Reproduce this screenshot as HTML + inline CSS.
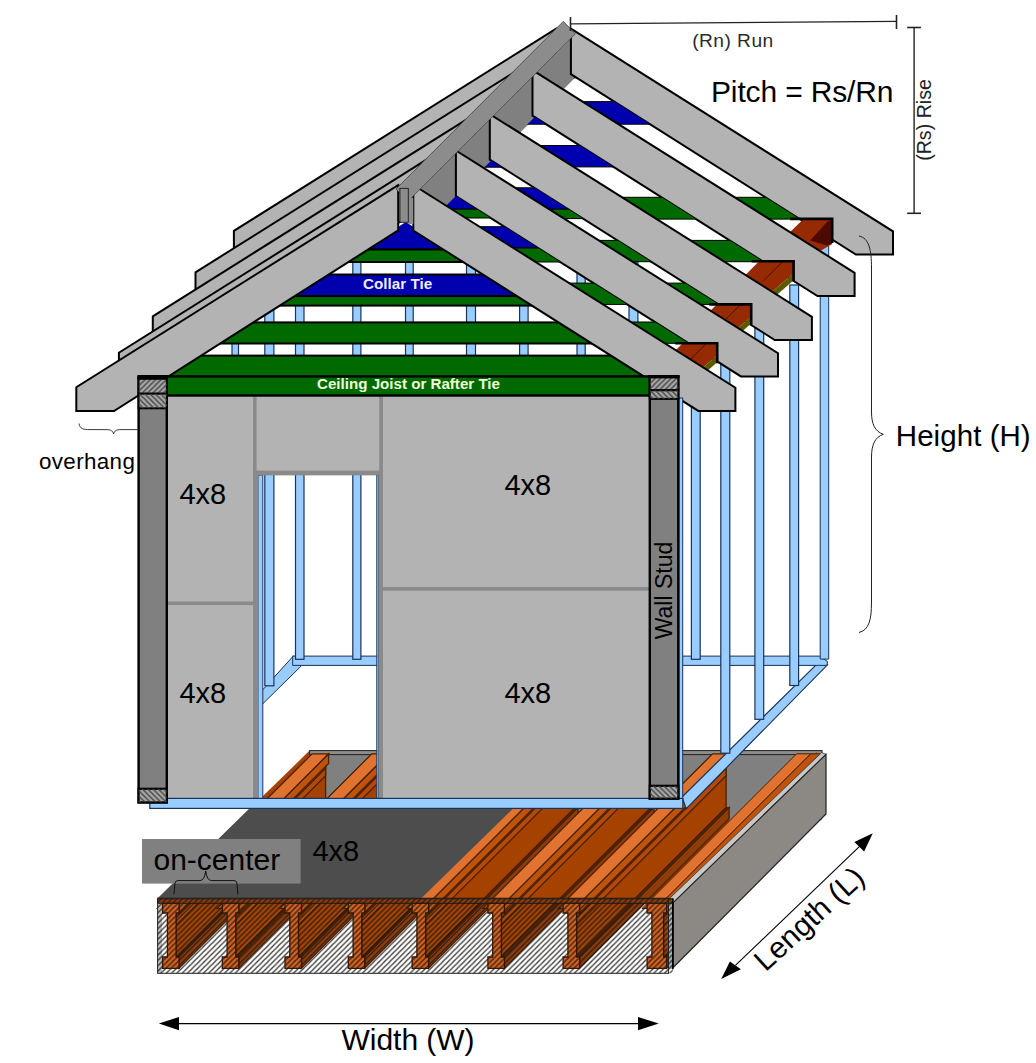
<!DOCTYPE html>
<html><head><meta charset="utf-8"><title>Framing diagram</title>
<style>
html,body{margin:0;padding:0;background:#fff;}
body{width:1036px;height:1063px;overflow:hidden;}
svg{display:block;font-family:"Liberation Sans",sans-serif;}
</style></head><body>
<svg width="1036" height="1063" viewBox="0 0 1036 1063">
<defs>
<pattern id="hatch" width="5.3" height="5.3" patternUnits="userSpaceOnUse"><path d="M-1,6.3 L6.3,-1 M-1,1 L1,-1 M4.3,6.3 L6.3,4.3" stroke="#1c1a18" stroke-width="1.35" stroke-opacity="0.85" fill="none"/></pattern>
<pattern id="hatch2" width="5.3" height="5.3" patternUnits="userSpaceOnUse"><path d="M-1,6.3 L6.3,-1 M-1,1 L1,-1 M4.3,6.3 L6.3,4.3" stroke="#444" stroke-width="1.4" fill="none"/></pattern>
<pattern id="hatch3" width="5.3" height="5.3" patternUnits="userSpaceOnUse"><path d="M-1,-1 L6.3,6.3 M-1,4.3 L1,6.3 M4.3,-1 L6.3,1" stroke="#444" stroke-width="1.4" fill="none"/></pattern>
<clipPath id="gap4"><polygon points="575.0,76.8 855.9,254.6 895.9,254.6 854.6,272.8 562.7,89.1"/></clipPath>
<clipPath id="gap3"><polygon points="534.8,117.0 817.5,296.0 857.5,296.0 811.9,316.8 519.2,132.6"/></clipPath>
<clipPath id="gap2"><polygon points="491.3,160.5 774.8,340.0 814.8,340.0 778.0,353.2 483.8,168.0"/></clipPath>
<clipPath id="gap1"><polygon points="455.9,196.0 740.9,376.4 780.9,376.4 735.4,387.7 446.1,205.7"/></clipPath>
<clipPath id="gable"><polygon points="405.8,222.0 167.5,377.0 646.0,377.0"/></clipPath>
</defs>
<rect width="1036" height="1063" fill="#fff"/>
<polygon points="157.7,898.6 672.8,898.6 822.0,750.6 309.6,750.6" fill="#a64200" stroke="none" stroke-width="0" stroke-linejoin="miter" />
<rect x="309.6" y="753.8" width="512.4" height="66.2" fill="#808080" stroke="none" stroke-width="1" />
<rect x="309.6" y="750.6" width="512.4" height="4.0" fill="#8c8c8c" stroke="#222" stroke-width="1" />
<polygon points="176.1,913.0 325.6,763.5 325.6,807.5 176.1,957.0" fill="#a64200" stroke="#4a2000" stroke-width="1.3" stroke-linejoin="miter" />
<polygon points="176.1,917.8 325.6,768.3 325.6,775.8 176.1,925.3" fill="#b34a08" stroke="#4a2000" stroke-width="1.3" stroke-linejoin="miter" />
<polygon points="176.1,957.0 325.6,807.5 328.6,807.5 179.1,957.0" fill="#552405" stroke="#4a2000" stroke-width="1.2" stroke-linejoin="miter" />
<polygon points="179.1,957.0 328.6,807.5 328.6,818.8 179.1,968.3" fill="#8f3c08" stroke="#4a2000" stroke-width="1.3" stroke-linejoin="miter" />
<polygon points="179.1,903.3 328.6,753.8 328.6,763.5 179.1,913.0" fill="#bf530c" stroke="#4a2000" stroke-width="1.3" stroke-linejoin="miter" />
<polygon points="157.5,908.4 312.1,753.8 328.6,753.8 174.0,908.4" fill="#e0732f" stroke="#4a2000" stroke-width="1.3" stroke-linejoin="miter" />
<polygon points="235.8,913.0 385.3,763.5 385.3,807.5 235.8,957.0" fill="#a64200" stroke="#4a2000" stroke-width="1.3" stroke-linejoin="miter" />
<polygon points="235.8,917.8 385.3,768.3 385.3,775.8 235.8,925.3" fill="#b34a08" stroke="#4a2000" stroke-width="1.3" stroke-linejoin="miter" />
<polygon points="235.8,957.0 385.3,807.5 388.3,807.5 238.8,957.0" fill="#552405" stroke="#4a2000" stroke-width="1.2" stroke-linejoin="miter" />
<polygon points="238.8,957.0 388.3,807.5 388.3,818.8 238.8,968.3" fill="#8f3c08" stroke="#4a2000" stroke-width="1.3" stroke-linejoin="miter" />
<polygon points="238.8,903.3 388.3,753.8 388.3,763.5 238.8,913.0" fill="#bf530c" stroke="#4a2000" stroke-width="1.3" stroke-linejoin="miter" />
<polygon points="217.2,908.4 371.8,753.8 388.3,753.8 233.7,908.4" fill="#e0732f" stroke="#4a2000" stroke-width="1.3" stroke-linejoin="miter" />
<polygon points="298.5,913.0 448.0,763.5 448.0,807.5 298.5,957.0" fill="#a64200" stroke="#4a2000" stroke-width="1.3" stroke-linejoin="miter" />
<polygon points="298.5,917.8 448.0,768.3 448.0,775.8 298.5,925.3" fill="#b34a08" stroke="#4a2000" stroke-width="1.3" stroke-linejoin="miter" />
<polygon points="298.5,957.0 448.0,807.5 451.0,807.5 301.5,957.0" fill="#552405" stroke="#4a2000" stroke-width="1.2" stroke-linejoin="miter" />
<polygon points="301.5,957.0 451.0,807.5 451.0,818.8 301.5,968.3" fill="#8f3c08" stroke="#4a2000" stroke-width="1.3" stroke-linejoin="miter" />
<polygon points="301.5,903.3 451.0,753.8 451.0,763.5 301.5,913.0" fill="#bf530c" stroke="#4a2000" stroke-width="1.3" stroke-linejoin="miter" />
<polygon points="279.9,908.4 434.5,753.8 451.0,753.8 296.4,908.4" fill="#e0732f" stroke="#4a2000" stroke-width="1.3" stroke-linejoin="miter" />
<polygon points="361.8,913.0 511.3,763.5 511.3,807.5 361.8,957.0" fill="#a64200" stroke="#4a2000" stroke-width="1.3" stroke-linejoin="miter" />
<polygon points="361.8,917.8 511.3,768.3 511.3,775.8 361.8,925.3" fill="#b34a08" stroke="#4a2000" stroke-width="1.3" stroke-linejoin="miter" />
<polygon points="361.8,957.0 511.3,807.5 514.3,807.5 364.8,957.0" fill="#552405" stroke="#4a2000" stroke-width="1.2" stroke-linejoin="miter" />
<polygon points="364.8,957.0 514.3,807.5 514.3,818.8 364.8,968.3" fill="#8f3c08" stroke="#4a2000" stroke-width="1.3" stroke-linejoin="miter" />
<polygon points="364.8,903.3 514.3,753.8 514.3,763.5 364.8,913.0" fill="#bf530c" stroke="#4a2000" stroke-width="1.3" stroke-linejoin="miter" />
<polygon points="343.2,908.4 497.8,753.8 514.3,753.8 359.7,908.4" fill="#e0732f" stroke="#4a2000" stroke-width="1.3" stroke-linejoin="miter" />
<polygon points="425.6,913.0 575.1,763.5 575.1,807.5 425.6,957.0" fill="#a64200" stroke="#4a2000" stroke-width="1.3" stroke-linejoin="miter" />
<polygon points="425.6,917.8 575.1,768.3 575.1,775.8 425.6,925.3" fill="#b34a08" stroke="#4a2000" stroke-width="1.3" stroke-linejoin="miter" />
<polygon points="425.6,957.0 575.1,807.5 578.1,807.5 428.6,957.0" fill="#552405" stroke="#4a2000" stroke-width="1.2" stroke-linejoin="miter" />
<polygon points="428.6,957.0 578.1,807.5 578.1,818.8 428.6,968.3" fill="#8f3c08" stroke="#4a2000" stroke-width="1.3" stroke-linejoin="miter" />
<polygon points="428.6,903.3 578.1,753.8 578.1,763.5 428.6,913.0" fill="#bf530c" stroke="#4a2000" stroke-width="1.3" stroke-linejoin="miter" />
<polygon points="407.0,908.4 561.6,753.8 578.1,753.8 423.5,908.4" fill="#e0732f" stroke="#4a2000" stroke-width="1.3" stroke-linejoin="miter" />
<polygon points="501.4,913.0 650.9,763.5 650.9,807.5 501.4,957.0" fill="#a64200" stroke="#4a2000" stroke-width="1.3" stroke-linejoin="miter" />
<polygon points="501.4,917.8 650.9,768.3 650.9,775.8 501.4,925.3" fill="#b34a08" stroke="#4a2000" stroke-width="1.3" stroke-linejoin="miter" />
<polygon points="501.4,957.0 650.9,807.5 653.9,807.5 504.4,957.0" fill="#552405" stroke="#4a2000" stroke-width="1.2" stroke-linejoin="miter" />
<polygon points="504.4,957.0 653.9,807.5 653.9,818.8 504.4,968.3" fill="#8f3c08" stroke="#4a2000" stroke-width="1.3" stroke-linejoin="miter" />
<polygon points="504.4,903.3 653.9,753.8 653.9,763.5 504.4,913.0" fill="#bf530c" stroke="#4a2000" stroke-width="1.3" stroke-linejoin="miter" />
<polygon points="482.8,908.4 637.4,753.8 653.9,753.8 499.3,908.4" fill="#e0732f" stroke="#4a2000" stroke-width="1.3" stroke-linejoin="miter" />
<polygon points="576.6,913.0 726.1,763.5 726.1,807.5 576.6,957.0" fill="#a64200" stroke="#4a2000" stroke-width="1.3" stroke-linejoin="miter" />
<polygon points="576.6,917.8 726.1,768.3 726.1,775.8 576.6,925.3" fill="#b34a08" stroke="#4a2000" stroke-width="1.3" stroke-linejoin="miter" />
<polygon points="576.6,957.0 726.1,807.5 729.1,807.5 579.6,957.0" fill="#552405" stroke="#4a2000" stroke-width="1.2" stroke-linejoin="miter" />
<polygon points="579.6,957.0 729.1,807.5 729.1,818.8 579.6,968.3" fill="#8f3c08" stroke="#4a2000" stroke-width="1.3" stroke-linejoin="miter" />
<polygon points="579.6,903.3 729.1,753.8 729.1,763.5 579.6,913.0" fill="#bf530c" stroke="#4a2000" stroke-width="1.3" stroke-linejoin="miter" />
<polygon points="558.0,908.4 712.6,753.8 729.1,753.8 574.5,908.4" fill="#e0732f" stroke="#4a2000" stroke-width="1.3" stroke-linejoin="miter" />
<polygon points="663.6,913.0 813.1,763.5 813.1,807.5 663.6,957.0" fill="#a64200" stroke="#4a2000" stroke-width="1.3" stroke-linejoin="miter" />
<polygon points="663.6,917.8 813.1,768.3 813.1,775.8 663.6,925.3" fill="#b34a08" stroke="#4a2000" stroke-width="1.3" stroke-linejoin="miter" />
<polygon points="663.6,957.0 813.1,807.5 816.1,807.5 666.6,957.0" fill="#552405" stroke="#4a2000" stroke-width="1.2" stroke-linejoin="miter" />
<polygon points="666.6,957.0 816.1,807.5 816.1,818.8 666.6,968.3" fill="#8f3c08" stroke="#4a2000" stroke-width="1.3" stroke-linejoin="miter" />
<polygon points="666.6,903.3 816.1,753.8 816.1,763.5 666.6,913.0" fill="#bf530c" stroke="#4a2000" stroke-width="1.3" stroke-linejoin="miter" />
<polygon points="656.0,908.4 810.6,753.8 820.1,753.8 665.5,908.4" fill="#bf530c" stroke="#4a2000" stroke-width="1" stroke-linejoin="miter" />
<polygon points="642.0,908.4 796.6,753.8 810.6,753.8 656.0,908.4" fill="#e0732f" stroke="#4a2000" stroke-width="1" stroke-linejoin="miter" />
<polygon points="669.5,898.5 673.5,902.6 826.0,754.3 821.6,752.6" fill="#c8c8c8" stroke="#333" stroke-width="0.8" stroke-linejoin="miter" />
<polygon points="673.2,902.6 826.0,754.3 826.0,814.0 673.2,967.5" fill="#8c8884" stroke="#222" stroke-width="1.2" stroke-linejoin="miter" />
<polygon points="157.7,898.2 252.0,806.0 515.7,806.0 421.3,898.2" fill="#4d4d4d" stroke="none" stroke-width="0" stroke-linejoin="miter" />
<rect x="157.6" y="903.3" width="4.4" height="70.0" fill="#c0c0c0" stroke="none" stroke-width="1" />
<rect x="668.5" y="903.3" width="4.3" height="65.7" fill="#b0b0b0" stroke="none" stroke-width="1" />
<rect x="157.6" y="898.8" width="515.2" height="4.5" fill="#8a3c10" stroke="#2a1200" stroke-width="1" />
<path d="M162.6,903.3 H179.1 V913 H176.1 V957 H179.1 V968.3 H162.6 V957 H167.4 V913 H162.6 Z" fill="#d4601c" stroke="#3a1500" stroke-width="1.3" />
<path d="M222.3,903.3 H238.8 V913 H235.8 V957 H238.8 V968.3 H222.3 V957 H227.1 V913 H222.3 Z" fill="#d4601c" stroke="#3a1500" stroke-width="1.3" />
<path d="M285.0,903.3 H301.5 V913 H298.5 V957 H301.5 V968.3 H285.0 V957 H289.8 V913 H285.0 Z" fill="#d4601c" stroke="#3a1500" stroke-width="1.3" />
<path d="M348.3,903.3 H364.8 V913 H361.8 V957 H364.8 V968.3 H348.3 V957 H353.1 V913 H348.3 Z" fill="#d4601c" stroke="#3a1500" stroke-width="1.3" />
<path d="M412.1,903.3 H428.6 V913 H425.6 V957 H428.6 V968.3 H412.1 V957 H416.9 V913 H412.1 Z" fill="#d4601c" stroke="#3a1500" stroke-width="1.3" />
<path d="M487.9,903.3 H504.4 V913 H501.4 V957 H504.4 V968.3 H487.9 V957 H492.7 V913 H487.9 Z" fill="#d4601c" stroke="#3a1500" stroke-width="1.3" />
<path d="M563.1,903.3 H579.6 V913 H576.6 V957 H579.6 V968.3 H563.1 V957 H567.9 V913 H563.1 Z" fill="#d4601c" stroke="#3a1500" stroke-width="1.3" />
<path d="M647.1,903.3 H666.6 V913 H663.6 V957 H666.6 V968.3 H647.1 V957 H651.9 V913 H647.1 Z" fill="#d4601c" stroke="#3a1500" stroke-width="1.3" />
<rect x="157.6" y="898.2" width="515.2" height="75.1" fill="url(#hatch)" stroke="none" stroke-width="1" />
<rect x="157.6" y="898.2" width="510.9" height="75.1" fill="none" stroke="#222" stroke-width="1" />
<line x1="672.8" y1="898.6" x2="672.8" y2="969.2" stroke="#000" stroke-width="1.6" />
<polygon points="293.6,655.7 301.1,666.1 258.5,708.0 258.5,694.5" fill="#99ccff" stroke="#1a3358" stroke-width="1" stroke-linejoin="miter" />
<polygon points="819.4,661.6 827.5,664.8 686.3,808.6 682.0,797.0" fill="#99ccff" stroke="#1a3358" stroke-width="1.2" stroke-linejoin="miter" />
<polygon points="292.7,656.1 819.4,656.1 827.5,661.5 827.0,665.4 292.7,665.4" fill="#99ccff" stroke="#1a3358" stroke-width="1" stroke-linejoin="miter" />
<rect x="295.5" y="262.0" width="8.5" height="397.3" fill="#99ccff" stroke="#1a3358" stroke-width="1.2" />
<rect x="352.8" y="262.0" width="8.1" height="397.3" fill="#99ccff" stroke="#1a3358" stroke-width="1.2" />
<rect x="405.5" y="262.0" width="7.7" height="397.3" fill="#99ccff" stroke="#1a3358" stroke-width="1.2" />
<rect x="466.5" y="262.0" width="9.0" height="397.3" fill="#99ccff" stroke="#1a3358" stroke-width="1.2" />
<rect x="519.6" y="262.0" width="8.5" height="397.3" fill="#99ccff" stroke="#1a3358" stroke-width="1.2" />
<rect x="577.0" y="262.0" width="8.2" height="397.3" fill="#99ccff" stroke="#1a3358" stroke-width="1.2" />
<rect x="629.0" y="262.0" width="8.9" height="397.3" fill="#99ccff" stroke="#1a3358" stroke-width="1.2" />
<rect x="691.4" y="262.0" width="8.8" height="397.3" fill="#99ccff" stroke="#1a3358" stroke-width="1.2" />
<rect x="264.8" y="262.0" width="9.1" height="423.8" fill="#99ccff" stroke="#1a3358" stroke-width="1.2" />
<rect x="232.0" y="300.0" width="6.5" height="120.0" fill="#99ccff" stroke="#1a3358" stroke-width="1.2" />
<rect x="720.8" y="350.0" width="9.0" height="403.2" fill="#99ccff" stroke="#1a3358" stroke-width="1.2" />
<rect x="754.9" y="318.0" width="8.8" height="401.3" fill="#99ccff" stroke="#1a3358" stroke-width="1.2" />
<rect x="789.8" y="285.0" width="8.8" height="400.5" fill="#99ccff" stroke="#1a3358" stroke-width="1.2" />
<polygon points="820.2,240.0 828.7,240.0 828.7,659.1 820.2,659.1" fill="#99ccff" stroke="#1a3358" stroke-width="1" stroke-linejoin="miter" />
<polygon points="555.8,28.9 233.9,230.9 233.9,254.7 271.6,254.7 555.8,74.1" fill="#b3b3b3" stroke="#000" stroke-width="2" stroke-linejoin="miter" />
<polygon points="517.4,70.3 195.5,272.3 195.5,296.1 233.2,296.1 517.4,115.5" fill="#b3b3b3" stroke="#000" stroke-width="2" stroke-linejoin="miter" />
<polygon points="474.7,114.3 152.8,316.3 152.8,340.1 190.5,340.1 474.7,159.5" fill="#b3b3b3" stroke="#000" stroke-width="2" stroke-linejoin="miter" />
<polygon points="440.8,150.7 118.9,352.7 118.9,376.5 156.6,376.5 440.8,195.9" fill="#b3b3b3" stroke="#000" stroke-width="2" stroke-linejoin="miter" />
<polygon points="575.3,33.9 575.3,77.5 413.3,239.5 413.3,196.0" fill="#808080" stroke="none" stroke-width="0" stroke-linejoin="miter" />
<polygon points="570.9,28.7 893.0,231.4 893.0,254.6 855.9,254.6 570.9,74.2" fill="#b3b3b3" stroke="#000" stroke-width="2" stroke-linejoin="miter" />
<g clip-path="url(#gap4)">
<rect x="300.0" y="70.0" width="600.0" height="7.8" fill="#0000ae" stroke="#000" stroke-width="1" />
<rect x="300.0" y="101.6" width="600.0" height="22.6" fill="#0000ae" stroke="#000" stroke-width="1" />
<rect x="300.0" y="197.3" width="600.0" height="21.8" fill="#006a00" stroke="#000" stroke-width="1" />
</g>
<polygon points="803.4,218.9 832.2,218.9 832.2,243.9 820.2,250.9 802.2,252.9 784.2,238.1" fill="#962a02" stroke="none" stroke-width="0" stroke-linejoin="miter" />
<polygon points="827.4,221.4 832.2,219.9 831.7,243.4 827.2,245.4 810.2,240.4" fill="#4d0a00" stroke="none" stroke-width="0" stroke-linejoin="miter" />
<path d="M790.2,218.9 L832.2,218.9 L832.2,242.9" fill="none" stroke="#000" stroke-width="2.6" stroke-linejoin="miter"/>
<polygon points="532.5,70.1 854.6,272.8 854.6,296.0 817.5,296.0 532.5,115.6" fill="#b3b3b3" stroke="#000" stroke-width="2" stroke-linejoin="miter" />
<g clip-path="url(#gap3)">
<rect x="300.0" y="116.0" width="600.0" height="8.2" fill="#0000ae" stroke="#000" stroke-width="1" />
<rect x="300.0" y="145.5" width="600.0" height="21.4" fill="#0000ae" stroke="#000" stroke-width="1" />
<rect x="300.0" y="197.3" width="600.0" height="21.8" fill="#006a00" stroke="#000" stroke-width="1" />
<rect x="300.0" y="240.4" width="600.0" height="21.3" fill="#006a00" stroke="#000" stroke-width="1" />
</g>
<polygon points="759.1,261.2 793.6,261.2 793.6,273.2 767.6,295.8 741.6,278.7" fill="#962a02" stroke="none" stroke-width="0" stroke-linejoin="miter" />
<polygon points="793.6,273.2 793.6,280.2 777.6,294.2 767.6,295.8" fill="#5a5a00" stroke="none" stroke-width="0" stroke-linejoin="miter" />
<line x1="781.6" y1="262.7" x2="763.6" y2="280.7" stroke="#4a1000" stroke-width="1" />
<path d="M751.6,261.2 L793.6,261.2 L793.6,281.2" fill="none" stroke="#000" stroke-width="2.6" stroke-linejoin="miter"/>
<polygon points="489.8,114.1 811.9,316.8 811.9,340.0 774.8,340.0 489.8,159.6" fill="#b3b3b3" stroke="#000" stroke-width="2" stroke-linejoin="miter" />
<g clip-path="url(#gap2)">
<rect x="300.0" y="158.0" width="600.0" height="9.2" fill="#0000ae" stroke="#000" stroke-width="1" />
<rect x="300.0" y="187.8" width="600.0" height="21.4" fill="#0000ae" stroke="#000" stroke-width="1" />
<rect x="300.0" y="209.2" width="600.0" height="9.4" fill="#006a00" stroke="#000" stroke-width="1" />
<rect x="300.0" y="240.4" width="600.0" height="21.3" fill="#006a00" stroke="#000" stroke-width="1" />
<rect x="300.0" y="283.1" width="600.0" height="21.3" fill="#006a00" stroke="#000" stroke-width="1" />
</g>
<polygon points="716.7,304.4 751.2,304.4 751.2,316.4 725.2,339.0 699.2,321.9" fill="#962a02" stroke="none" stroke-width="0" stroke-linejoin="miter" />
<polygon points="751.2,316.4 751.2,323.4 735.2,337.4 725.2,339.0" fill="#5a5a00" stroke="none" stroke-width="0" stroke-linejoin="miter" />
<line x1="739.2" y1="305.9" x2="721.2" y2="323.9" stroke="#4a1000" stroke-width="1" />
<path d="M709.2,304.4 L751.2,304.4 L751.2,324.4" fill="none" stroke="#000" stroke-width="2.6" stroke-linejoin="miter"/>
<polygon points="455.9,150.5 778.0,353.2 778.0,376.4 740.9,376.4 455.9,196.0" fill="#b3b3b3" stroke="#000" stroke-width="2" stroke-linejoin="miter" />
<g clip-path="url(#gap1)">
<rect x="300.0" y="196.0" width="600.0" height="13.2" fill="#0000ae" stroke="#000" stroke-width="1" />
<rect x="300.0" y="209.2" width="600.0" height="8.8" fill="#006a00" stroke="#000" stroke-width="1" />
<rect x="300.0" y="226.7" width="600.0" height="21.3" fill="#0000ae" stroke="#000" stroke-width="1" />
<rect x="300.0" y="248.0" width="600.0" height="14.0" fill="#006a00" stroke="#000" stroke-width="1" />
<rect x="300.0" y="283.1" width="600.0" height="21.3" fill="#006a00" stroke="#000" stroke-width="1" />
<rect x="300.0" y="322.0" width="600.0" height="21.3" fill="#006a00" stroke="#000" stroke-width="1" />
</g>
<polygon points="682.7,343.2 717.2,343.2 717.2,355.2 691.2,377.8 665.2,360.7" fill="#962a02" stroke="none" stroke-width="0" stroke-linejoin="miter" />
<polygon points="717.2,355.2 717.2,362.2 701.2,376.2 691.2,377.8" fill="#5a5a00" stroke="none" stroke-width="0" stroke-linejoin="miter" />
<line x1="705.2" y1="344.7" x2="687.2" y2="362.7" stroke="#4a1000" stroke-width="1" />
<path d="M675.2,343.2 L717.2,343.2 L717.2,363.2" fill="none" stroke="#000" stroke-width="2.6" stroke-linejoin="miter"/>
<g clip-path="url(#gable)">
<rect x="150.0" y="220.0" width="530.0" height="29.5" fill="#0000ae" stroke="#000" stroke-width="2" />
<rect x="150.0" y="249.5" width="530.0" height="12.5" fill="#006a00" stroke="#000" stroke-width="2" />
<rect x="150.0" y="274.5" width="530.0" height="21.6" fill="#0000ae" stroke="#000" stroke-width="2" />
<rect x="150.0" y="296.1" width="530.0" height="9.5" fill="#006a00" stroke="#000" stroke-width="2" />
<rect x="150.0" y="322.4" width="530.0" height="21.1" fill="#006a00" stroke="#000" stroke-width="2" />
<rect x="150.0" y="355.6" width="530.0" height="21.4" fill="#006a00" stroke="#000" stroke-width="2" />
</g>
<text x="363.1" y="288.8" font-size="15" fill="#eeeeff" text-anchor="start" font-weight="bold" textLength="69" lengthAdjust="spacingAndGlyphs">Collar Tie</text>
<polygon points="413.3,185.0 735.4,387.7 735.4,410.9 698.3,410.9 413.3,230.5" fill="#b3b3b3" stroke="#000" stroke-width="2" stroke-linejoin="miter" />
<polygon points="398.2,185.2 76.3,387.2 76.3,411.0 114.0,411.0 398.2,230.4" fill="#b3b3b3" stroke="#000" stroke-width="2" stroke-linejoin="miter" />
<polygon points="563.4,21.3 575.3,33.9 408.3,200.9 396.0,189.0" fill="#8c8c8c" stroke="#444" stroke-width="0.8" stroke-linejoin="miter" />
<rect x="408.3" y="198.0" width="5.0" height="26.0" fill="#8c8c8c" stroke="none" stroke-width="1" />
<rect x="399.9" y="188.4" width="8.4" height="33.9" fill="#8c8c8c" stroke="#222" stroke-width="1" />
<rect x="678.9" y="398.0" width="3.8" height="400.6" fill="#99ccff" stroke="#1a3358" stroke-width="1" />
<rect x="257.9" y="475.0" width="4.9" height="323.5" fill="#99ccff" stroke="#1a3358" stroke-width="1" />
<rect x="376.8" y="475.0" width="2.0" height="323.5" fill="#99ccff" stroke="#1a3358" stroke-width="1" />
<rect x="165.5" y="394.5" width="89.4" height="208.9" fill="#b3b3b3" stroke="#8a8a8a" stroke-width="3.4" />
<rect x="165.5" y="603.4" width="89.4" height="198.1" fill="#b3b3b3" stroke="#8a8a8a" stroke-width="3.4" />
<rect x="254.9" y="394.5" width="126.3" height="78.9" fill="#b3b3b3" stroke="#8a8a8a" stroke-width="3.4" />
<rect x="381.2" y="394.5" width="270.8" height="194.5" fill="#b3b3b3" stroke="#8a8a8a" stroke-width="3.4" />
<rect x="381.2" y="589.0" width="270.8" height="212.5" fill="#b3b3b3" stroke="#8a8a8a" stroke-width="3.4" />
<rect x="253.2" y="470.6" width="129.6" height="4.7" fill="#8a8a8a" stroke="none" stroke-width="1" />
<rect x="253.2" y="470.6" width="4.6" height="328.4" fill="#8a8a8a" stroke="none" stroke-width="1" />
<rect x="378.6" y="470.6" width="4.3" height="328.4" fill="#8a8a8a" stroke="none" stroke-width="1" />
<text x="202.8" y="503.8" font-size="29" fill="#000" text-anchor="middle" font-weight="normal" >4x8</text>
<text x="202.8" y="702.5" font-size="29" fill="#000" text-anchor="middle" font-weight="normal" >4x8</text>
<text x="527.8" y="494.5" font-size="29" fill="#000" text-anchor="middle" font-weight="normal" >4x8</text>
<text x="527.8" y="702.5" font-size="29" fill="#000" text-anchor="middle" font-weight="normal" >4x8</text>
<rect x="149.8" y="798.4" width="533.0" height="10.0" fill="#99ccff" stroke="#1a3358" stroke-width="1.2" />
<rect x="166.5" y="376.4" width="484.5" height="19.1" fill="#006a00" stroke="#000" stroke-width="2.4" />
<text x="317.0" y="388.8" font-size="15" fill="#f0ffd8" text-anchor="start" font-weight="bold" textLength="183" lengthAdjust="spacingAndGlyphs">Ceiling Joist or Rafter Tie</text>
<rect x="138.6" y="377.6" width="28.2" height="424.8" fill="#808080" stroke="#000" stroke-width="2.4" />
<rect x="138.6" y="377.6" width="28.2" height="16.1" fill="#a6a6a6" stroke="#000" stroke-width="2" />
<rect x="138.6" y="377.6" width="28.2" height="16.1" fill="url(#hatch2)" stroke="none" stroke-width="1" />
<rect x="138.6" y="393.7" width="28.2" height="14.6" fill="#a6a6a6" stroke="#000" stroke-width="2" />
<rect x="138.6" y="393.7" width="28.2" height="14.6" fill="url(#hatch3)" stroke="none" stroke-width="1" />
<rect x="138.6" y="788.8" width="28.2" height="13.6" fill="#a6a6a6" stroke="#000" stroke-width="2.2" />
<rect x="138.6" y="788.8" width="28.2" height="13.6" fill="url(#hatch3)" stroke="none" stroke-width="1" />
<rect x="137.4" y="375.0" width="30.6" height="4.8" fill="#000" stroke="none" stroke-width="1" />
<rect x="649.8" y="376.2" width="28.5" height="422.4" fill="#808080" stroke="#000" stroke-width="2.4" />
<rect x="649.8" y="376.2" width="28.5" height="14.1" fill="#a6a6a6" stroke="#000" stroke-width="2" />
<rect x="649.8" y="376.2" width="28.5" height="14.1" fill="url(#hatch2)" stroke="none" stroke-width="1" />
<rect x="649.8" y="390.3" width="28.5" height="8.6" fill="#a6a6a6" stroke="#000" stroke-width="2" />
<rect x="649.8" y="390.3" width="28.5" height="8.6" fill="url(#hatch3)" stroke="none" stroke-width="1" />
<rect x="649.8" y="785.8" width="28.5" height="12.8" fill="#a6a6a6" stroke="#000" stroke-width="2.2" />
<rect x="649.8" y="785.8" width="28.5" height="12.8" fill="url(#hatch3)" stroke="none" stroke-width="1" />
<rect x="648.6" y="375.2" width="30.9" height="3.2" fill="#000" stroke="none" stroke-width="1" />
<text x="0.0" y="0.0" font-size="23" fill="#000" text-anchor="middle" font-weight="normal" transform="translate(671.8,590.5) rotate(-90)">Wall Stud</text>
<path d="M79,423.5 C80,429 83,429.6 90,429.6 L106,429.6 C111,429.6 113,431 113.6,434 C114.2,431 116,429.6 121,429.6 L137.5,429.6" fill="none" stroke="#222" stroke-width="0.9" />
<text x="38.9" y="468.9" font-size="22.4" fill="#000" text-anchor="start" font-weight="normal" textLength="96">overhang</text>
<rect x="142.0" y="839.0" width="158.6" height="44.6" fill="#808080" stroke="none" stroke-width="1" />
<text x="153.5" y="869.9" font-size="30" fill="#000" text-anchor="start" font-weight="normal" >on-center</text>
<path d="M173.9,894.5 L175,883 Q175.3,880.6 178,880.6 L200,880.6 Q204.5,880.4 205.7,871 Q206.9,880.4 211.4,880.6 L234,880.6 Q236.6,880.6 236.9,883 L237.9,894.5" fill="none" stroke="#111" stroke-width="1" />
<text x="335.8" y="861.0" font-size="29" fill="#000" text-anchor="middle" font-weight="normal" >4x8</text>
<line x1="170.0" y1="1023.6" x2="646.0" y2="1023.6" stroke="#000" stroke-width="1.2" />
<polygon points="158.8,1023.6 179.0,1017.0 179.0,1030.2" fill="#000" stroke="none" stroke-width="0" stroke-linejoin="miter" />
<polygon points="658.8,1023.6 638.0,1017.0 638.0,1030.2" fill="#000" stroke="none" stroke-width="0" stroke-linejoin="miter" />
<text x="341.5" y="1049.8" font-size="30" fill="#000" text-anchor="start" font-weight="normal" textLength="133.1">Width (W)</text>
<line x1="735.4" y1="965.4" x2="859.3" y2="846.7" stroke="#000" stroke-width="1.1" />
<polygon points="721.2,978.9 729.9,961.5 740.9,969.3" fill="#000" stroke="none" stroke-width="0" stroke-linejoin="miter" />
<polygon points="872.8,833.2 854.4,841.9 864.1,851.5" fill="#000" stroke="none" stroke-width="0" stroke-linejoin="miter" />
<text x="0.0" y="0.0" font-size="30" fill="#000" text-anchor="start" font-weight="normal" transform="translate(765.5,972.5) rotate(-42.5)">Length (L)</text>
<line x1="570.5" y1="23.8" x2="896.5" y2="21.3" stroke="#222" stroke-width="1.2" />
<line x1="570.5" y1="17.0" x2="570.5" y2="31.0" stroke="#222" stroke-width="1.6" />
<line x1="896.5" y1="15.0" x2="896.5" y2="29.0" stroke="#222" stroke-width="1.6" />
<text x="692.2" y="46.6" font-size="19.2" fill="#2a2a2a" text-anchor="start" font-weight="normal" textLength="81">(Rn) Run</text>
<text x="711.0" y="101.5" font-size="30" fill="#000" text-anchor="start" font-weight="normal" textLength="182.5">Pitch = Rs/Rn</text>
<line x1="914.1" y1="27.5" x2="914.1" y2="213.3" stroke="#222" stroke-width="1.4" />
<line x1="907.2" y1="27.5" x2="921.0" y2="27.5" stroke="#222" stroke-width="1.6" />
<line x1="907.2" y1="213.3" x2="921.0" y2="213.3" stroke="#222" stroke-width="1.6" />
<text x="0.0" y="0.0" font-size="19.6" fill="#222" text-anchor="middle" font-weight="normal" transform="translate(931.3,120) rotate(-90)">(Rs) Rise</text>
<path d="M859,236 C869,238 871.5,250 871.5,268 L871.5,412 C871.5,424 875,431.5 883.3,434.3 C875,437 871.5,445 871.5,457 L871.5,602 C871.5,620 869,630 859,632.5" fill="none" stroke="#222" stroke-width="1" />
<text x="895.8" y="445.5" font-size="29.5" fill="#000" text-anchor="start" font-weight="normal" textLength="134.9">Height (H)</text>
</svg>
</body></html>
